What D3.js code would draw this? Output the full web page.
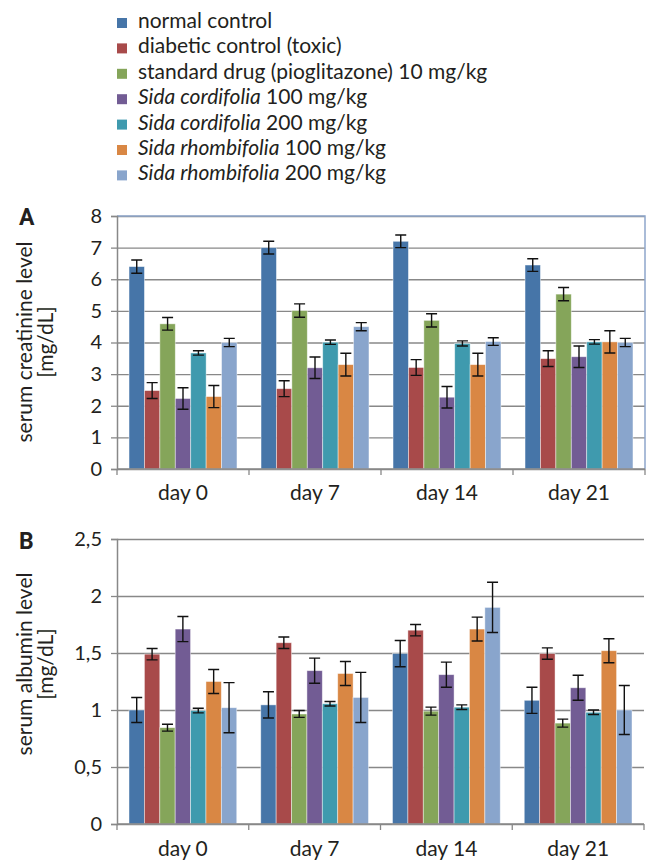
<!DOCTYPE html>
<html>
<head>
<meta charset="utf-8">
<script src="https://cdn.jsdelivr.net/npm/d3@7"></script>
<style>
  body { margin: 0; background: #fff; }
  svg text { font-family: Lato, "Open Sans", sans-serif; fill: #231f20; }
</style>
</head>
<body>
<div id="stage"></div>
<script>
// days on the x axis
var days = ["day 0", "day 7", "day 14", "day 21"];

// groups (legend): italic species part + plain part
var group_italic = ["", "", "", "Sida cordifolia", "Sida cordifolia", "Sida rhombifolia", "Sida rhombifolia"];
var group_plain = ["normal control", "diabetic control (toxic)", "standard drug (pioglitazone) 10 mg/kg",
  " 100 mg/kg", " 200 mg/kg", " 100 mg/kg", " 200 mg/kg"];
var group_colors = ["#4675a8", "#a84a4a", "#85a55a", "#725c94", "#3f9aae", "#d98744", "#89a5cc"];

// A - serum creatinine (mg/dL), one row per group, one value per day
var creat_mean = [
  [6.4, 7.0, 7.2, 6.45],
  [2.48, 2.54, 3.21, 3.49],
  [4.59, 5.01, 4.7, 5.53],
  [2.23, 3.2, 2.27, 3.55],
  [3.67, 4.01, 3.97, 4.02],
  [2.29, 3.3, 3.3, 4.02],
  [4.0, 4.5, 4.03, 4.0]
];
var creat_err = [
  [0.21, 0.2, 0.2, 0.2],
  [0.25, 0.25, 0.25, 0.25],
  [0.2, 0.21, 0.21, 0.21],
  [0.34, 0.34, 0.34, 0.34],
  [0.07, 0.07, 0.08, 0.07],
  [0.35, 0.36, 0.36, 0.35],
  [0.13, 0.13, 0.12, 0.13]
];
var creat_ticks = [0, 1, 2, 3, 4, 5, 6, 7, 8];

// B - serum albumin (mg/dL)
var alb_mean = [
  [1.0, 1.045, 1.495, 1.085],
  [1.49, 1.59, 1.7, 1.495],
  [0.845, 0.965, 0.99, 0.885],
  [1.71, 1.345, 1.31, 1.195],
  [0.995, 1.055, 1.025, 0.98],
  [1.25, 1.32, 1.71, 1.52],
  [1.02, 1.11, 1.9, 1.0]
];
var alb_err = [
  [0.11, 0.115, 0.115, 0.115],
  [0.05, 0.05, 0.05, 0.05],
  [0.03, 0.03, 0.035, 0.035],
  [0.11, 0.11, 0.11, 0.11],
  [0.02, 0.02, 0.02, 0.02],
  [0.105, 0.105, 0.105, 0.105],
  [0.22, 0.22, 0.22, 0.215]
];
var alb_ticks = [0, 0.5, 1, 1.5, 2, 2.5];

var stage_width = 650;
var stage_height = 860;
var svg;

init_page();

function init_page() {
  svg = d3.select("#stage")
    .append("svg")
    .attr("width", stage_width)
    .attr("height", stage_height);

  build_legend();

  build_panel({
    letter: "A", letter_y: 225,
    top: 216, bottom: 469, right: 645,
    ticks: creat_ticks, fmt: function(d) { return d; },
    mean: creat_mean, err: creat_err,
    title: ["serum creatinine level", "[mg/dL]"], title_y: 342,
    label_y: 500, framed: true
  });

  build_panel({
    letter: "B", letter_y: 549,
    top: 539, bottom: 824, right: 644,
    ticks: alb_ticks, fmt: function(d) { return String(d).replace(".", ","); },
    mean: alb_mean, err: alb_err,
    title: ["serum albumin level", "[mg/dL]"], title_y: 664,
    label_y: 856, framed: false
  });
}

function build_legend() {
  var row = d3.scaleLinear().domain([0, 1]).range([28, 53.4]);
  var items = svg.append("g")
    .selectAll("g")
    .data(group_plain)
    .enter()
    .append("g")
    .attr("transform", function(d, i) { return "translate(0," + row(i) + ")"; });

  items.append("rect")
    .attr("x", 117).attr("y", -10)
    .attr("width", 10).attr("height", 10)
    .attr("fill", function(d, i) { return group_colors[i]; });

  var txt = items.append("text")
    .attr("x", 138)
    .style("font-size", "21px");
  txt.append("tspan")
    .style("font-style", "italic")
    .text(function(d, i) { return group_italic[i]; });
  txt.append("tspan")
    .text(function(d) { return d; });
}

function build_panel(p) {
  var left = 117;
  var x0 = d3.scaleBand().domain(days).range([left, p.right]);
  var x1 = d3.scaleBand()
    .domain(d3.range(group_plain.length))
    .range([0, x0.bandwidth()])
    .paddingOuter(0.78);
  var y = d3.scaleLinear()
    .domain([0, d3.max(p.ticks)])
    .range([p.bottom, p.top]);

  var g = svg.append("g");

  // gridlines
  g.append("g")
    .attr("transform", "translate(" + left + ",0)")
    .call(d3.axisLeft(y).tickValues(p.ticks).tickSize(-(p.right - left)).tickFormat(""))
    .call(function(a) {
      a.select(".domain").remove();
      a.selectAll("line").attr("stroke", "#888").attr("stroke-width", 1.3);
    });

  if (p.framed) {
    g.append("path")
      .attr("d", "M" + left + "," + p.top + "H" + p.right + "V" + p.bottom)
      .attr("fill", "none")
      .attr("stroke", "#8ea6cb")
      .attr("stroke-width", 1.5);
  }

  // bars
  var day_g = g.append("g")
    .selectAll("g")
    .data(days)
    .enter()
    .append("g")
    .attr("transform", function(d) { return "translate(" + x0(d) + ",0)"; });

  var cells = day_g.selectAll("g")
    .data(function(d, j) {
      return p.mean.map(function(row, i) {
        return { i: i, v: row[j], e: p.err[i][j] };
      });
    })
    .enter()
    .append("g");

  cells.append("rect")
    .attr("x", function(d) { return x1(d.i); })
    .attr("width", x1.bandwidth())
    .attr("y", function(d) { return y(d.v); })
    .attr("height", function(d) { return p.bottom - y(d.v); })
    .attr("fill", function(d) { return group_colors[d.i]; })
    .attr("stroke", "rgba(255,255,255,0.55)")
    .attr("stroke-width", 0.8);

  // error bars
  var cap = 5.5;
  cells.append("path")
    .attr("d", function(d) {
      var cx = x1(d.i) + x1.bandwidth() / 2;
      var hi = y(d.v + d.e), lo = y(d.v - d.e);
      return "M" + (cx - cap) + "," + hi + "H" + (cx + cap) +
        "M" + cx + "," + hi + "V" + lo +
        "M" + (cx - cap) + "," + lo + "H" + (cx + cap);
    })
    .attr("fill", "none")
    .attr("stroke", "#111")
    .attr("stroke-width", 1.4);

  // y axis with ticks and labels
  g.append("g")
    .attr("transform", "translate(" + left + ",0)")
    .call(d3.axisLeft(y).tickValues(p.ticks).tickSize(6).tickPadding(9).tickFormat(p.fmt))
    .call(function(a) {
      a.select(".domain").attr("stroke", "#888").attr("stroke-width", 1.5);
      a.selectAll("line").attr("stroke", "#888").attr("stroke-width", 1.3);
      a.selectAll("text").style("font-size", "20px").attr("fill", "#231f20")
        .style("font-family", "Lato, sans-serif");
    });

  // x axis line with ticks at category borders
  var borders = days.map(function(d) { return x0(d); }).concat([p.right]);
  g.append("line")
    .attr("x1", left).attr("x2", p.right)
    .attr("y1", p.bottom).attr("y2", p.bottom)
    .attr("stroke", "#888").attr("stroke-width", 1.5);
  g.append("g")
    .selectAll("line")
    .data(borders)
    .enter()
    .append("line")
    .attr("x1", function(d) { return d; }).attr("x2", function(d) { return d; })
    .attr("y1", p.bottom).attr("y2", p.bottom + 6)
    .attr("stroke", "#888").attr("stroke-width", 1.3);

  g.append("g")
    .selectAll("text")
    .data(days)
    .enter()
    .append("text")
    .attr("x", function(d) { return x0(d) + x0.bandwidth() / 2; })
    .attr("y", p.label_y)
    .attr("text-anchor", "middle")
    .style("font-size", "21px")
    .text(function(d) { return d; });

  // axis title
  var title = g.append("text")
    .attr("transform", "translate(0," + p.title_y + ") rotate(-90)")
    .attr("text-anchor", "middle")
    .style("font-size", "21px");
  title.append("tspan").attr("x", 0).attr("y", 32).text(p.title[0]);
  title.append("tspan").attr("x", 0).attr("y", 53).text(p.title[1]);

  // panel letter
  g.append("text")
    .attr("x", 19)
    .attr("y", p.letter_y)
    .style("font-size", "23px")
    .style("font-weight", "bold")
    .style("font-family", "Roboto, Lato, sans-serif")
    .text(p.letter);
}
</script>
</body>
</html>
